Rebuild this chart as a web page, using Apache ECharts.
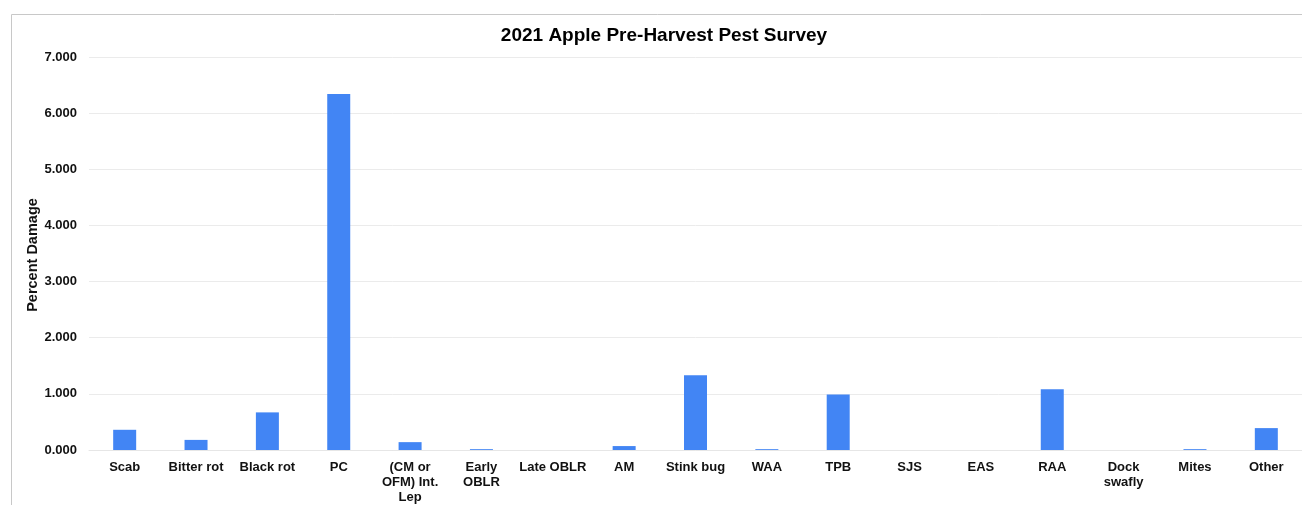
<!DOCTYPE html>
<html><head><meta charset="utf-8">
<script src="https://cdn.jsdelivr.net/npm/echarts@6/dist/echarts.min.js"></script>
<style>html,body{margin:0;padding:0;background:#fff}#c{width:1302px;height:505px}</style>
</head><body><div id="c"></div>
<script>
const categories = ["Scab","Bitter rot","Black rot","PC","(CM or\nOFM) Int.\nLep","Early\nOBLR","Late OBLR","AM","Stink bug","WAA","TPB","SJS","EAS","RAA","Dock\nswafly","Mites","Other"];
const damage = [0.36,0.18,0.67,6.34,0.14,0.015,0,0.07,1.33,0.015,0.99,0,0,1.08,0,0.015,0.39];
const yTicks = {min:0,max:7,interval:1};
const yAxisTitle = 'Percent Damage';
const chart = echarts.init(document.getElementById('c'));
chart.setOption({
  animation:false,
  graphic:[
    {type:'rect',shape:{x:11.5,y:14.5,width:1400,height:600},style:{fill:'none',stroke:'#c8c8c8',lineWidth:1}},
    {type:'text',x:33,y:255,rotation:Math.PI/2,style:{text:yAxisTitle,align:'center',verticalAlign:'middle',
      font:'bold 14.5px "Liberation Sans", Arial',fill:'#111'}}
  ],
  title:{text:'2021 Apple Pre-Harvest Pest Survey',left:659,top:21,textAlign:'center',
    textStyle:{fontFamily:'Liberation Sans, Arial',fontWeight:'bold',fontSize:19,color:'#000'}},
  grid:{left:89,right:-3,top:57,bottom:54,containLabel:false},
  xAxis:{type:'category',data:categories,
    axisLine:{show:true,lineStyle:{color:'#e6e6e6',width:1}},axisTick:{show:false},
    axisLabel:{interval:0,margin:10,fontFamily:'Liberation Sans, Arial',fontWeight:'bold',fontSize:13,color:'#111',lineHeight:15}},
  yAxis:{type:'value',min:yTicks.min,max:yTicks.max,interval:yTicks.interval,
    axisLine:{show:false},axisTick:{show:false},
    splitLine:{lineStyle:{color:'#ebebeb',width:1}},
    axisLabel:{margin:12,formatter:v=>v.toFixed(3),fontFamily:'Liberation Sans, Arial',fontWeight:'bold',fontSize:13,color:'#111'}},
  series:[{type:'bar',data:damage,barWidth:23,itemStyle:{color:'#4285f4'}}]
});
</script></body></html>
